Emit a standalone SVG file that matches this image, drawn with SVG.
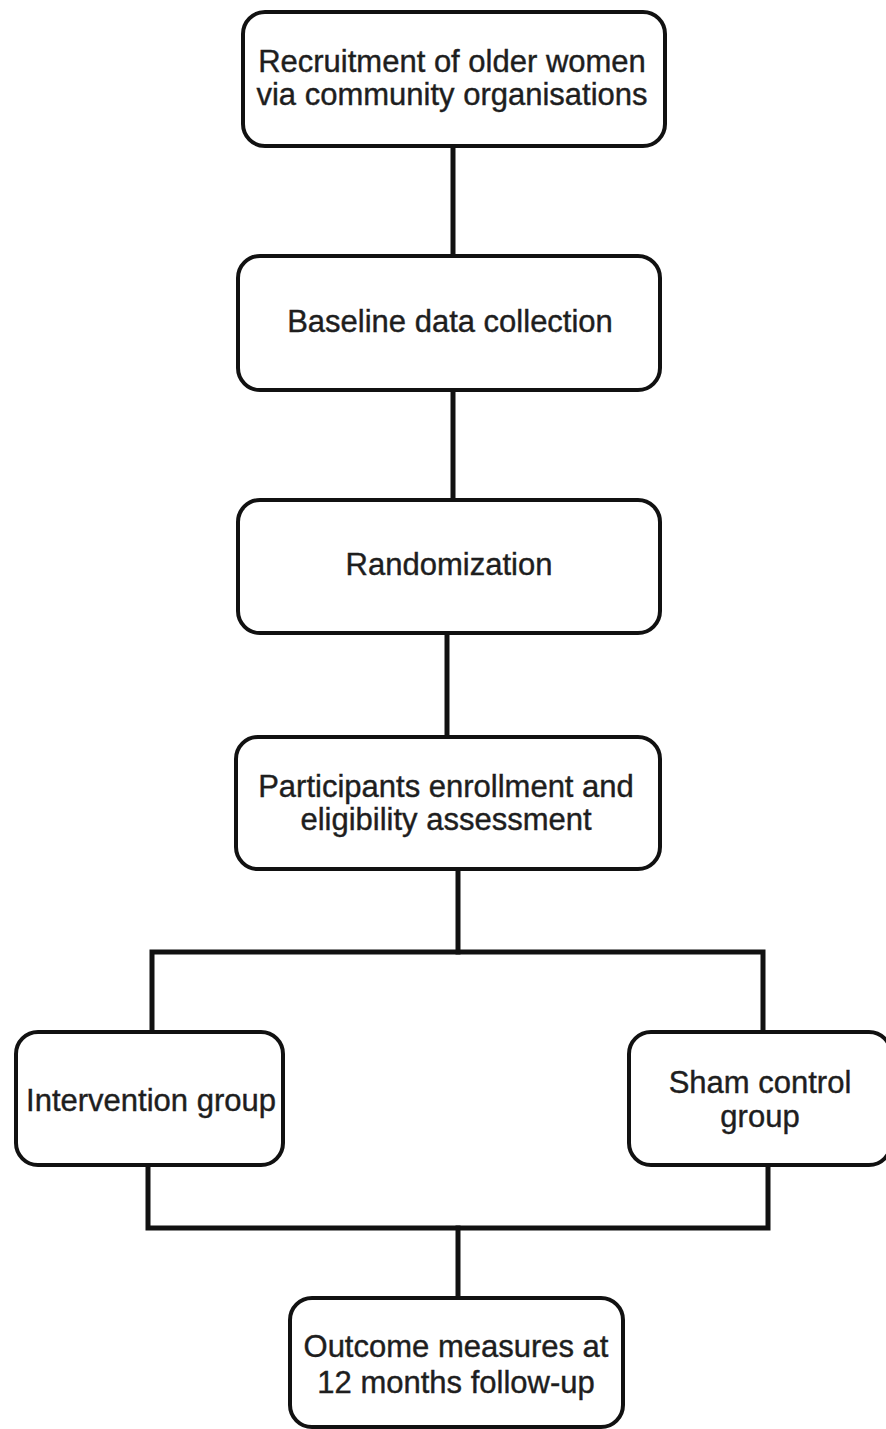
<svg xmlns="http://www.w3.org/2000/svg" width="886" height="1429" viewBox="0 0 886 1429">
  <style>
    .box { fill: #ffffff; stroke: #111111; stroke-width: 4; }
    .wire { fill: none; stroke: #111111; stroke-width: 5; stroke-linejoin: miter; stroke-linecap: square; }
    .label { font-family: "Liberation Sans", Arial, sans-serif; font-size: 31px; fill: #1e1e1e; stroke: #1e1e1e; stroke-width: 0.4; text-anchor: middle; }
  </style>
  <rect width="886" height="1429" fill="#ffffff"/>

  <!-- connectors -->
  <g id="connectors">
    <line class="wire" x1="453" y1="147" x2="453" y2="256"/>
    <line class="wire" x1="453" y1="390" x2="453" y2="500"/>
    <line class="wire" x1="447" y1="633" x2="447" y2="737"/>
    <line class="wire" x1="458" y1="869" x2="458" y2="952"/>
    <polyline class="wire" points="152,1032 152,952 763,952 763,1032"/>
    <polyline class="wire" points="148,1165 148,1228 768,1228 768,1165"/>
    <line class="wire" x1="458" y1="1228" x2="458" y2="1298"/>
  </g>

  <g id="recruitment">
    <rect class="box" x="243" y="12" width="422" height="134" rx="22"/>
    <text class="label" x="452" y="72">Recruitment of older women</text>
    <text class="label" x="452" y="105">via community organisations</text>
  </g>

  <g id="baseline">
    <rect class="box" x="238" y="256" width="422" height="134" rx="22"/>
    <text class="label" x="450" y="332">Baseline data collection</text>
  </g>

  <g id="randomization">
    <rect class="box" x="238" y="500" width="422" height="133" rx="22"/>
    <text class="label" x="449" y="575">Randomization</text>
  </g>

  <g id="enrollment">
    <rect class="box" x="236" y="737" width="424" height="132" rx="22"/>
    <text class="label" x="446" y="797">Participants enrollment and</text>
    <text class="label" x="446" y="830">eligibility assessment</text>
  </g>

  <g id="intervention">
    <rect class="box" x="16" y="1032" width="267" height="133" rx="22"/>
    <text class="label" x="151" y="1111">Intervention group</text>
  </g>

  <g id="sham">
    <rect class="box" x="629" y="1032" width="262" height="133" rx="22"/>
    <text class="label" x="760" y="1093">Sham control</text>
    <text class="label" x="760" y="1127">group</text>
  </g>

  <g id="outcome">
    <rect class="box" x="290" y="1298" width="333" height="129" rx="22"/>
    <text class="label" x="456" y="1357">Outcome measures at</text>
    <text class="label" x="456" y="1393">12 months follow-up</text>
  </g>
</svg>
